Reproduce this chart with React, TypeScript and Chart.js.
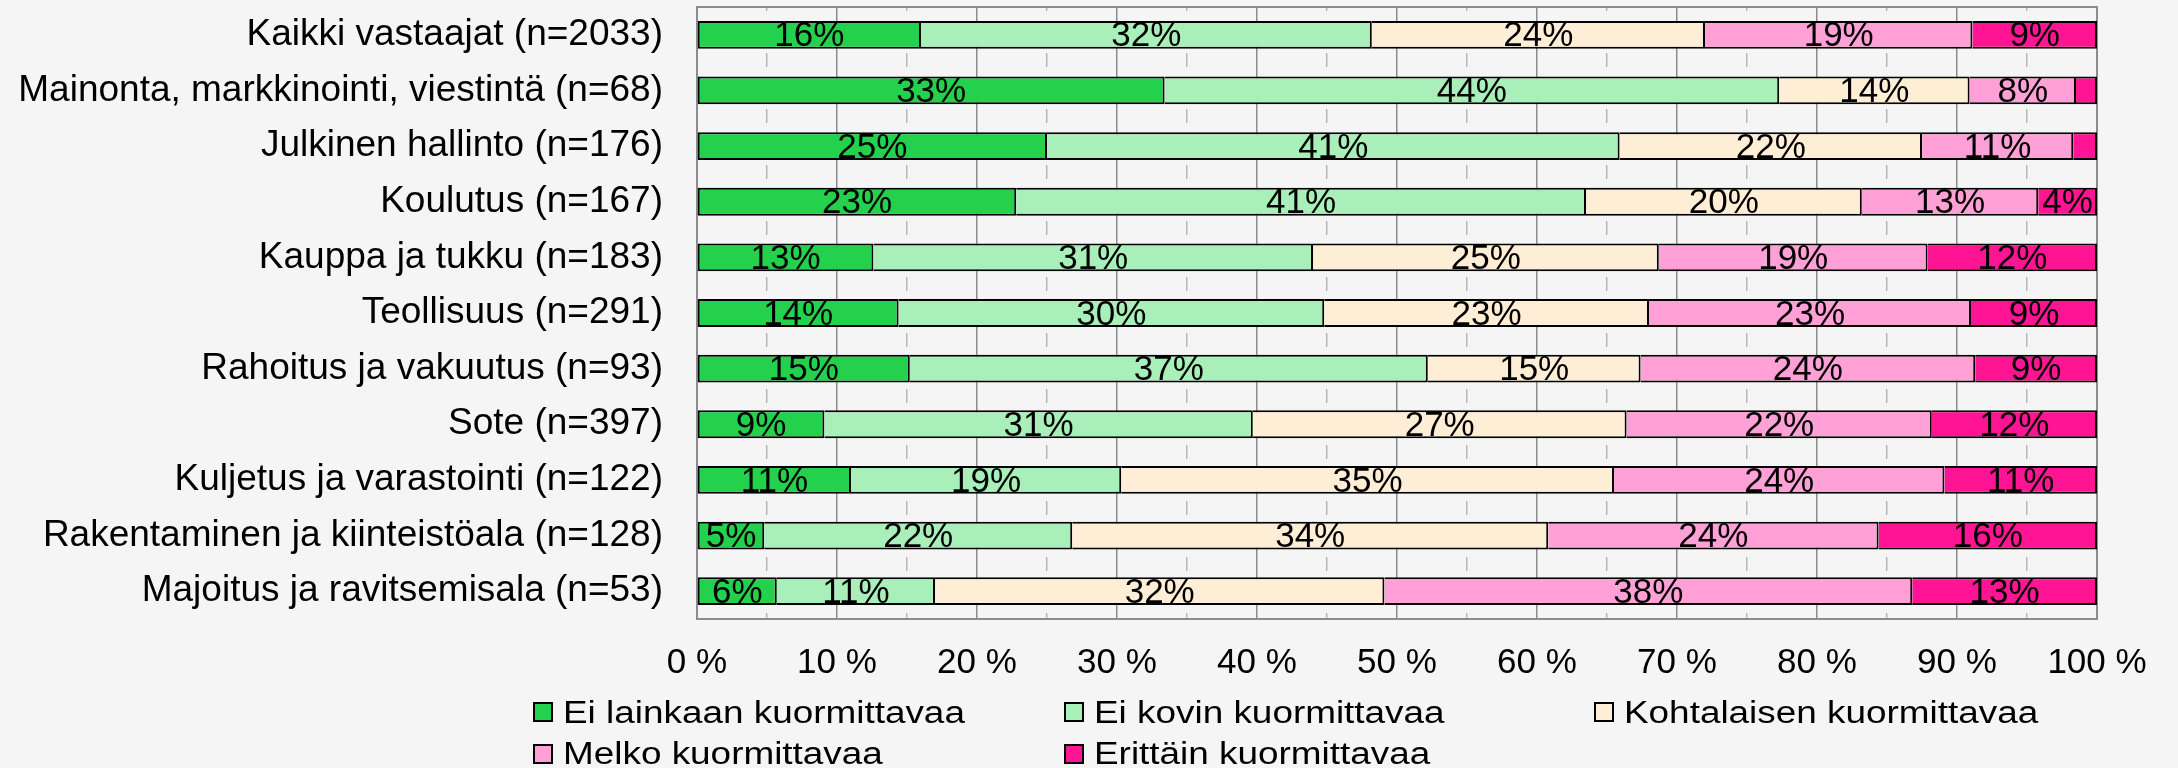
import React, { useEffect, useRef } from 'react';
import { Chart, registerables } from 'chart.js';

Chart.register(...registerables);

const categories = [
  'Kaikki vastaajat (n=2033)',
  'Mainonta, markkinointi, viestintä (n=68)',
  'Julkinen hallinto (n=176)',
  'Koulutus (n=167)',
  'Kauppa ja tukku (n=183)',
  'Teollisuus (n=291)',
  'Rahoitus ja vakuutus (n=93)',
  'Sote (n=397)',
  'Kuljetus ja varastointi (n=122)',
  'Rakentaminen ja kiinteistöala (n=128)',
  'Majoitus ja ravitsemisala (n=53)',
];

const seriesNames = [
  'Ei lainkaan kuormittavaa',
  'Ei kovin kuormittavaa',
  'Kohtalaisen kuormittavaa',
  'Melko kuormittavaa',
  'Erittäin kuormittavaa',
];

const eiLainkaan = [16.0, 33.4, 25.0, 22.8, 12.6, 14.4, 15.2, 9.1, 11.0, 4.8, 5.7];
const eiKovin = [32.2, 43.9, 40.9, 40.7, 31.4, 30.4, 37.0, 30.6, 19.3, 22.0, 11.3];
const kohtalaisen = [23.8, 13.6, 21.6, 19.7, 24.7, 23.2, 15.2, 26.7, 35.2, 34.0, 32.1];
const melko = [19.1, 7.6, 10.8, 12.6, 19.2, 23.0, 23.9, 21.8, 23.6, 23.6, 37.7];
const erittain = [8.9, 1.5, 1.7, 4.2, 12.1, 9.0, 8.7, 11.8, 10.9, 15.6, 13.2];

const seriesValues = [eiLainkaan, eiKovin, kohtalaisen, melko, erittain];
const seriesColors = ['#24D14C', '#A8EFB9', '#FFEED6', '#FFA0D7', '#FF1493'];

const FONT = '"Liberation Sans", Arial, sans-serif';

const segmentLabels = {
  id: 'segmentLabels',
  afterDatasetsDraw(chart: any) {
    const ctx = chart.ctx;
    ctx.save();
    ctx.font = `35px ${FONT}`;
    ctx.fillStyle = '#000';
    ctx.textAlign = 'center';
    ctx.textBaseline = 'middle';
    chart.data.datasets.forEach((ds: any, di: number) => {
      const meta = chart.getDatasetMeta(di);
      meta.data.forEach((el: any, i: number) => {
        const v = ds.data[i];
        if (v < 3) return;
        const p = el.getProps(['x', 'y', 'base'], true);
        ctx.fillText(Math.round(v) + '%', (p.x + p.base) / 2, p.y + 2);
      });
    });
    ctx.restore();
  },
};

const plotBorder = {
  id: 'plotBorder',
  beforeDatasetsDraw(chart: any) {
    const { left, top, right, bottom } = chart.chartArea;
    const ctx = chart.ctx;
    ctx.save();
    ctx.strokeStyle = '#8c8c8c';
    ctx.lineWidth = 2;
    ctx.strokeRect(left, top, right - left, bottom - top);
    ctx.restore();
  },
};

export default function App() {
  const canvasRef = useRef<HTMLCanvasElement | null>(null);

  useEffect(() => {
    document.body.style.margin = '0';
    document.body.style.background = '#f5f5f5';
    const canvas = canvasRef.current;
    if (!canvas) return;
    const chart = new Chart(canvas, {
      type: 'bar',
      data: {
        labels: categories,
        datasets: seriesNames.map((name, i) => ({
          label: name,
          data: seriesValues[i],
          backgroundColor: seriesColors[i],
          borderColor: '#000',
          borderWidth: 2,
          borderSkipped: i === 0 ? false : 'start',
          barPercentage: 0.5,
          categoryPercentage: 1.0,
        })),
      },
      options: {
        indexAxis: 'y',
        responsive: false,
        animation: false,
        devicePixelRatio: 1,
        layout: { padding: { top: 7, right: 81, left: 0, bottom: 0 } },
        plugins: {
          legend: { display: false },
          tooltip: { enabled: false },
        },
        scales: {
          x: {
            stacked: true,
            min: 0,
            max: 100,
            afterFit: (s: any) => {
              s.height = 149;
              s.paddingLeft = 0;
              s.paddingRight = 0;
            },
            ticks: {
              stepSize: 5,
              autoSkip: false,
              maxRotation: 0,
              padding: 23,
              color: '#000',
              font: { size: 35, family: FONT },
              callback: (v: any) => (Number(v) % 10 === 0 ? `${v} %` : ''),
            },
            grid: {
              drawTicks: false,
              color: (c: any) => (c.tick && c.tick.value % 10 !== 0 ? '#b8b8b8' : '#8c8c8c'),
              lineWidth: 1.5,
            },
            border: {
              display: false,
              dash: (c: any) => (c.tick && c.tick.value % 10 !== 0 ? [14, 14] : []),
              dashOffset: 10,
            },
          },
          y: {
            stacked: true,
            afterFit: (s: any) => {
              s.width = 697;
              s.paddingTop = 0;
              s.paddingBottom = 0;
            },
            ticks: {
              padding: 34,
              color: '#000',
              font: { size: 37, family: FONT },
            },
            grid: { display: false, drawTicks: false },
            border: { display: false },
          },
        },
      },
      plugins: [plotBorder, segmentLabels],
    });
    return () => chart.destroy();
  }, []);

  return (
    <div style={{ position: 'relative', width: 2178, height: 768, background: '#f5f5f5', overflow: 'hidden' }}>
      <canvas ref={canvasRef} width={2178} height={768} style={{ display: 'block' }} />
      {seriesNames.map((name, i) => {
        const col = i % 3;
        const row = Math.floor(i / 3);
        return (
          <div
            key={name}
            style={{
              position: 'absolute',
              left: 533 + col * 530.5,
              top: 702 + row * 41.5,
              height: 20,
              display: 'flex',
              alignItems: 'center',
              whiteSpace: 'nowrap',
            }}
          >
            <span
              style={{
                width: 16,
                height: 16,
                border: '2px solid #000',
                background: seriesColors[i],
                display: 'inline-block',
                flex: '0 0 auto',
              }}
            />
            <span
              style={{
                marginLeft: 10,
                fontFamily: FONT,
                fontSize: 31,
                lineHeight: '31px',
                color: '#000',
                display: 'inline-block',
                transform: 'scaleX(1.19)',
                transformOrigin: 'left center',
              }}
            >
              {name}
            </span>
          </div>
        );
      })}
    </div>
  );
}
